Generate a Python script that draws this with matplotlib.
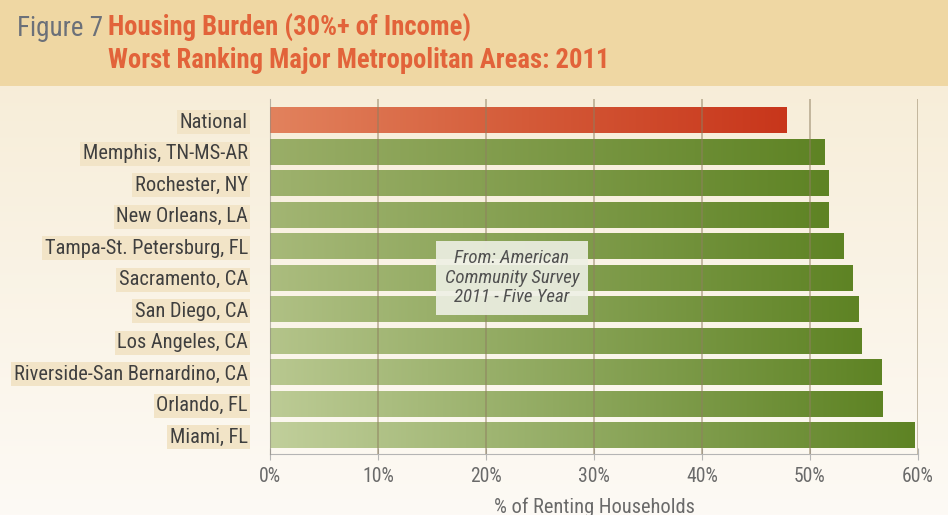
import numpy as np
import matplotlib
matplotlib.use("Agg")
import matplotlib.pyplot as plt
from matplotlib import font_manager
from matplotlib.colors import LinearSegmentedColormap, to_rgb

# data
areas = ["National", "Memphis, TN-MS-AR", "Rochester, NY", "New Orleans, LA",
         "Tampa-St. Petersburg, FL", "Sacramento, CA", "San Diego, CA",
         "Los Angeles, CA", "Riverside-San Bernardino, CA", "Orlando, FL", "Miami, FL"]
burden = [47.8, 51.3, 51.7, 51.7, 53.1, 53.9, 54.5, 54.8, 56.6, 56.7, 59.7]
xticks = [0, 10, 20, 30, 40, 50, 60]
xtick_labels = ["0%", "10%", "20%", "30%", "40%", "50%", "60%"]

# narrow font if there is one, else condensed DejaVu
names = {f.name for f in font_manager.fontManager.ttflist}
font = "DejaVu Sans"
for cand in ["Liberation Sans Narrow", "Roboto Condensed", "Open Sans Condensed",
             "DejaVu Sans Condensed"]:
    if cand in names:
        font = cand
        break
plt.rcParams["font.family"] = [font, "DejaVu Sans"]
plt.rcParams["font.stretch"] = "condensed"

fig = plt.figure(figsize=(9.48, 5.15), dpi=100)
renderer = fig.canvas.get_renderer()


def fit(t, width_px):
    w = t.get_window_extent(renderer).width
    t.set_fontsize(t.get_fontsize() * width_px / w)


# parchment background
bg = fig.add_axes([0, 0, 1, 1], zorder=-10)
bg.set_axis_off()
rows = np.linspace(0, 1, 515)[:, None]
body_top = np.array(to_rgb("#f6ebd3"))
body_bot = np.array(to_rgb("#fdfaf5"))
img = body_top + (body_bot - body_top) * rows[..., None]
img = np.repeat(img, 948, axis=1)
img[:86] = np.array(to_rgb("#efd7a4"))
bg.imshow(img, aspect="auto", extent=[0, 1, 0, 1])
bg.set_xlim(0, 1)
bg.set_ylim(0, 1)

ax = fig.add_axes([270 / 948, 1 - 454 / 515, 648 / 948, 355 / 515])
ax.patch.set_alpha(0)

y = np.arange(len(areas))
bars = ax.barh(y, burden, height=0.82, color="none", edgecolor="none", zorder=2)

# green bars get lighter on the left towards the bottom of the chart
top_left = np.array(to_rgb("#9aae68"))
bot_left = np.array(to_rgb("#c1cf9b"))
grad = np.linspace(0, 1, 256)[None, :]
for i, b in enumerate(bars):
    if i == 0:
        cmap = LinearSegmentedColormap.from_list("r", ["#e2825d", "#d45a38", "#c8361b"])
    else:
        f = (i - 1) / (len(bars) - 2)
        left = top_left + (bot_left - top_left) * f
        cmap = LinearSegmentedColormap.from_list("g%d" % i, [left, "#5e8324"])
    x0, y0 = b.get_x(), b.get_y()
    im = ax.imshow(grad, cmap=cmap, aspect="auto",
                   extent=[x0, x0 + b.get_width(), y0 + b.get_height(), y0], zorder=2)
    im.set_clip_path(b)

ax.vlines(xticks[1:], -0.67, 10.6, color="#8f7f60", alpha=0.5, lw=1.4, zorder=3)

ax.set_xlim(0, 60)
ax.set_ylim(10.6, -0.67)
ax.set_xticks(xticks)
ax.set_xticklabels(xtick_labels)
ax.set_yticks(y)
ax.set_yticklabels(areas)

for s in ["top", "right"]:
    ax.spines[s].set_visible(False)
ax.spines["left"].set_color("#8f8a80")
ax.spines["left"].set_alpha(0.6)
ax.spines["left"].set_zorder(4)
ax.spines["bottom"].set_color("#b5b5b5")
ax.tick_params(axis="x", direction="inout", length=9, color="#b5b5b5",
               labelsize=12.5, labelcolor="#6a6a6a", pad=5)
ax.tick_params(axis="y", length=0, labelsize=12.5, labelcolor="#3f3f3f", pad=16)

xl = ax.set_xlabel("% of Renting Households", fontsize=13.5, color="#6a6a6a", labelpad=8)

note = ax.text(22.4, 5, "From: American\nCommunity Survey\n2011 - Five Year",
               ha="center", va="center", style="italic", fontsize=12, color="#505050",
               linespacing=1.1, zorder=5,
               bbox=dict(boxstyle="square,pad=0.45", fc="#eef0e5", ec="none", alpha=0.9))

t1 = fig.text(17 / 948, 1 - 28 / 515, "Figure 7", fontsize=19, color="#6b7079", va="center")
t2 = fig.text(108 / 948, 1 - 28 / 515, "Housing Burden (30%+ of Income)", fontsize=19,
              color="#e2633a", weight="bold", va="center")
t3 = fig.text(108 / 948, 1 - 61 / 515, "Worst Ranking Major Metropolitan Areas: 2011",
              fontsize=19, color="#e2633a", weight="bold", va="center")

fig.canvas.draw()
fit(t1, 86)
fit(t2, 363)
fit(t3, 502)
fit(xl, 200)
fit(note, 134)

ylabels = ax.get_yticklabels()
longest = ylabels[areas.index("Riverside-San Bernardino, CA")]
scale = 234 / longest.get_window_extent(renderer).width
ax.tick_params(axis="y", labelsize=12.5 * scale)
xlabels = ax.get_xticklabels()
scale_x = 32 / xlabels[-1].get_window_extent(renderer).width
ax.tick_params(axis="x", labelsize=12.5 * scale_x)
for lbl in ax.get_yticklabels():
    lbl.set_bbox(dict(boxstyle="square,pad=0.12", fc="#f2e4c7", ec="none"))

fig.savefig("out.png", dpi=100)
